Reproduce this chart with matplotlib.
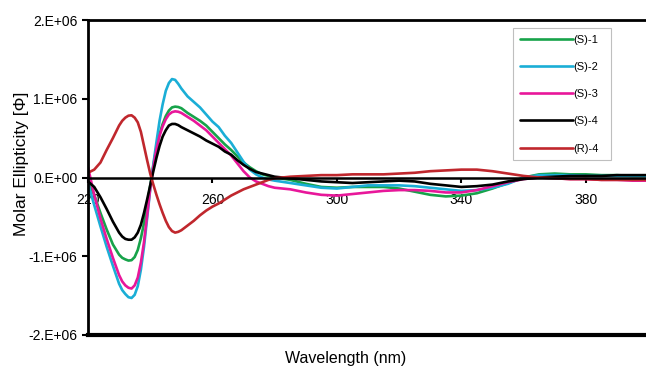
import matplotlib
matplotlib.use("Agg")
import matplotlib.pyplot as plt
import numpy as np

plt.rcParams['font.family'] = ['Liberation Sans', 'DejaVu Sans']

wavelength = [220, 222, 224, 226, 228, 230, 231, 232, 233, 234, 235, 236, 237, 238, 239, 240,
              241, 242, 243, 244, 245, 246, 247, 248, 249,
              250, 252, 254, 256, 258, 260, 262, 264, 266, 268, 270, 272, 274, 276, 278, 280,
              285, 290, 295, 300, 305, 310, 315, 320, 325, 330, 335, 340, 345, 350, 355, 360,
              365, 370, 375, 380, 385, 390, 395, 400]

s1 = [-0.05, -0.22, -0.45, -0.66, -0.85, -0.98, -1.02, -1.04, -1.055, -1.05, -1.01, -0.92, -0.77, -0.58, -0.35, -0.10,
      0.15, 0.38, 0.55, 0.68, 0.78, 0.85, 0.89, 0.90, 0.895,
      0.88, 0.82, 0.77, 0.72, 0.66, 0.58, 0.50, 0.42, 0.35, 0.27, 0.19, 0.13, 0.08, 0.04, 0.02, 0.00,
      -0.03, -0.08, -0.12, -0.13, -0.12, -0.12, -0.12, -0.14, -0.18, -0.22, -0.24, -0.23, -0.20, -0.14, -0.07, 0.00,
      0.04, 0.05, 0.04, 0.04, 0.03, 0.03, 0.02, 0.02]

s2 = [-0.07, -0.35, -0.62, -0.88, -1.12, -1.35, -1.43, -1.48, -1.52, -1.53, -1.49, -1.38, -1.17, -0.88, -0.52, -0.15,
      0.17, 0.45, 0.72, 0.93, 1.10, 1.20, 1.25, 1.24, 1.19,
      1.13, 1.03, 0.96, 0.89, 0.80, 0.71, 0.64, 0.53, 0.44, 0.32, 0.20, 0.10, 0.04, 0.00, -0.025, -0.04,
      -0.07, -0.10, -0.13, -0.14, -0.12, -0.10, -0.10, -0.10, -0.11, -0.13, -0.15, -0.17, -0.16, -0.13, -0.08, 0.00,
      0.03, 0.03, 0.03, 0.02, 0.02, 0.02, 0.02, 0.02]

s3 = [0.13, -0.22, -0.52, -0.78, -1.02, -1.24, -1.32, -1.37, -1.40, -1.41, -1.37, -1.27, -1.08, -0.82, -0.48, -0.14,
      0.13, 0.36, 0.53, 0.65, 0.74, 0.80, 0.83, 0.84, 0.835,
      0.82, 0.77, 0.72, 0.66, 0.60, 0.52, 0.44, 0.36, 0.28, 0.18, 0.08, 0.00, -0.05, -0.08, -0.11, -0.13,
      -0.15, -0.19, -0.22, -0.23, -0.21, -0.19, -0.17, -0.16, -0.16, -0.17, -0.19, -0.19, -0.16, -0.11, -0.06, -0.02,
      0.00, -0.01, -0.02, -0.02, -0.03, -0.03, -0.04, -0.04]

s4 = [-0.05, -0.12, -0.25, -0.40, -0.56, -0.70, -0.75, -0.78, -0.79, -0.79, -0.76, -0.70, -0.60, -0.45, -0.28, -0.10,
      0.08, 0.25, 0.40, 0.52, 0.60, 0.66, 0.68, 0.68, 0.665,
      0.64, 0.60, 0.56, 0.52, 0.47, 0.43, 0.39, 0.33, 0.29, 0.22, 0.16, 0.11, 0.07, 0.05, 0.03, 0.01,
      -0.01, -0.03, -0.05, -0.06, -0.07, -0.06, -0.05, -0.04, -0.05, -0.08, -0.10, -0.12, -0.11, -0.09, -0.05, -0.02,
      0.00, 0.01, 0.02, 0.02, 0.02, 0.03, 0.03, 0.03]

r4 = [0.06, 0.10, 0.19, 0.35, 0.50, 0.66, 0.72, 0.76, 0.785, 0.79, 0.76, 0.70, 0.58, 0.40, 0.22, 0.05,
      -0.09, -0.22, -0.34, -0.45, -0.55, -0.63, -0.68, -0.70, -0.69,
      -0.67, -0.61, -0.55, -0.48, -0.42, -0.37, -0.33, -0.28, -0.23, -0.19, -0.15, -0.12, -0.09, -0.06, -0.03, -0.01,
      0.01, 0.02, 0.03, 0.03, 0.04, 0.04, 0.04, 0.05, 0.06, 0.08, 0.09, 0.10, 0.10, 0.08, 0.05, 0.02,
      0.00, -0.01, -0.02, -0.02, -0.03, -0.03, -0.03, -0.03]

series_names = ['(S)-1', '(S)-2', '(S)-3', '(S)-4', '(R)-4']
series_values = [s1, s2, s3, s4, r4]
colors = ['#17a34a', '#1aaed6', '#e8179a', '#000000', '#c0272d']

y_ticks = [-2e6, -1e6, 0, 1e6, 2e6]
y_tick_labels = ['-2.E+06', '-1.E+06', '0.E+00', '1.E+06', '2.E+06']
x_ticks = [220, 260, 300, 340, 380]
x_tick_labels = ['220', '260', '300', '340', '380']

W, H = 646, 369
fig = plt.figure(figsize=(W / 100, H / 100), dpi=100)
ax = fig.add_axes([88 / W, (H - 335) / H, 560 / W, 315 / H])

for name, vals, c in zip(series_names, series_values, colors):
    ax.plot(wavelength, np.array(vals) * 1e6, color=c, lw=1.9, label=name,
            solid_joinstyle='round', solid_capstyle='round')

ax.set_xlim(220, 400)
ax.set_ylim(-2e6, 2e6)

# frame
for s in ['left', 'top']:
    ax.spines[s].set_linewidth(2.0)
ax.spines['right'].set_visible(False)
ax.spines['bottom'].set_position(('data', 0))
ax.spines['bottom'].set_linewidth(1.8)
ax.axhline(-2e6, color='black', lw=3.0, clip_on=False, zorder=5)

ax.set_yticks(y_ticks)
ax.set_yticklabels(y_tick_labels)
ax.set_xticks(x_ticks)
ax.set_xticklabels(x_tick_labels)
ax.tick_params(axis='y', direction='out', length=4, width=1.5, labelsize=10, pad=3.5)
ax.tick_params(axis='x', direction='out', length=3.5, width=1.5, labelsize=10, pad=8)

fig.text(346 / W, 1 - 358 / H, 'Wavelength (nm)', ha='center', va='center', fontsize=11.5)
fig.text(22 / W, 1 - 164 / H, 'Molar Ellipticity [Φ]', ha='center', va='center',
         rotation=90, fontsize=12.5)

leg = ax.legend(loc='upper left', bbox_to_anchor=(513 / W, 1 - 160 / H, 98 / W, 132 / H),
                bbox_transform=fig.transFigure, mode='expand',
                fontsize=8, frameon=True, fancybox=False, handlelength=4.8, handletextpad=0.05,
                labelspacing=1.55, borderpad=0.6, borderaxespad=0)
leg.get_frame().set_edgecolor('#b0b0b0')
leg.get_frame().set_linewidth(0.8)
for line in leg.get_lines():
    line.set_linewidth(1.9)

fig.savefig('out.png', dpi=100)
